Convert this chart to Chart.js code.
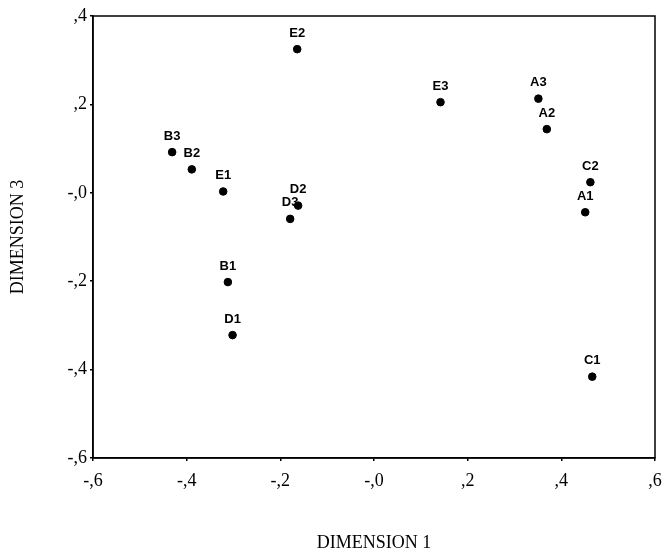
<!DOCTYPE html>
<html>
<head>
<meta charset="utf-8">
<script src="https://cdn.jsdelivr.net/npm/chart.js@4/dist/chart.umd.min.js"></script>
<style>
  html, body { margin: 0; padding: 0; background: #fff; }
  #wrap { width: 666px; height: 558px; }
</style>
</head>
<body>
<div id="wrap"><canvas id="c" width="666" height="558"></canvas></div>
<script>
const pointLabels = ['A1','A2','A3','B1','B2','B3','C1','C2','D1','D2','D3','E1','E2','E3'];
const dimension1 = [0.451, 0.369, 0.351, -0.312, -0.389, -0.431, 0.466, 0.462, -0.302, -0.162, -0.179, -0.322, -0.164, 0.142];
const dimension3 = [-0.044, 0.144, 0.213, -0.202, 0.053, 0.092, -0.416, 0.024, -0.322, -0.029, -0.059, 0.003, 0.325, 0.205];
const xTitle = 'DIMENSION 1';
const yTitle = 'DIMENSION 3';

function fmt(v) {
  const t = Math.round(v * 10);
  return (t <= 0 ? '-,' : ',') + Math.abs(t);
}

const boxPlugin = {
  id: 'box',
  afterDatasetsDraw(chart) {
    const a = chart.chartArea, ctx = chart.ctx;
    ctx.save();
    ctx.strokeStyle = '#000';
    ctx.lineWidth = 1.5;
    ctx.strokeRect(a.left, a.top, a.right - a.left, a.bottom - a.top);
    ctx.restore();
  }
};

const labelPlugin = {
  id: 'pointLabels',
  afterDatasetsDraw(chart) {
    const ctx = chart.ctx;
    const meta = chart.getDatasetMeta(0);
    ctx.save();
    ctx.fillStyle = '#000';
    ctx.font = 'bold 13px "Liberation Sans", Arial, sans-serif';
    ctx.textAlign = 'center';
    ctx.textBaseline = 'middle';
    meta.data.forEach((el, i) => {
      ctx.fillText(pointLabels[i], el.x, el.y - 16);
    });
    ctx.restore();
  }
};

const serif = '"Liberation Serif", "Times New Roman", serif';

new Chart(document.getElementById('c'), {
  type: 'scatter',
  data: {
    datasets: [{
      data: dimension1.map((x, i) => ({ x: x, y: dimension3[i] })),
      backgroundColor: '#000',
      borderColor: '#000',
      pointRadius: 3.8,
      pointHoverRadius: 3.8
    }]
  },
  options: {
    responsive: false,
    animation: false,
    events: [],
    layout: { padding: { top: 16, right: 11, left: 0, bottom: 0 } },
    plugins: { legend: { display: false }, tooltip: { enabled: false } },
    scales: {
      x: {
        type: 'linear',
        min: -0.6, max: 0.6,
        afterFit(s) { s.height = 100; s.paddingRight = 0; s.paddingLeft = 0; },
        ticks: { stepSize: 0.2, callback: v => fmt(v), color: '#000', font: { family: serif, size: 18 }, padding: 9, maxRotation: 0 },
        grid: { drawOnChartArea: false, color: '#000', tickLength: 3, lineWidth: 1.5 },
        border: { color: '#000', width: 1.5 },
        title: { display: true, text: xTitle, color: '#000', font: { family: serif, size: 18 }, padding: { top: 0, bottom: 4 } }
      },
      y: {
        type: 'linear',
        min: -0.6, max: 0.4,
        afterFit(s) { s.width = 93; s.paddingTop = 0; s.paddingBottom = 0; },
        ticks: { stepSize: 0.2, callback: v => fmt(v), color: '#000', font: { family: serif, size: 18 }, padding: 3 },
        grid: { drawOnChartArea: false, color: '#000', tickLength: 3, lineWidth: 1.5 },
        border: { color: '#000', width: 1.5 },
        title: { display: true, text: yTitle, color: '#000', font: { family: serif, size: 18 }, padding: { top: 7, bottom: 0 } }
      }
    }
  },
  plugins: [boxPlugin, labelPlugin]
});
</script>
</body>
</html>
